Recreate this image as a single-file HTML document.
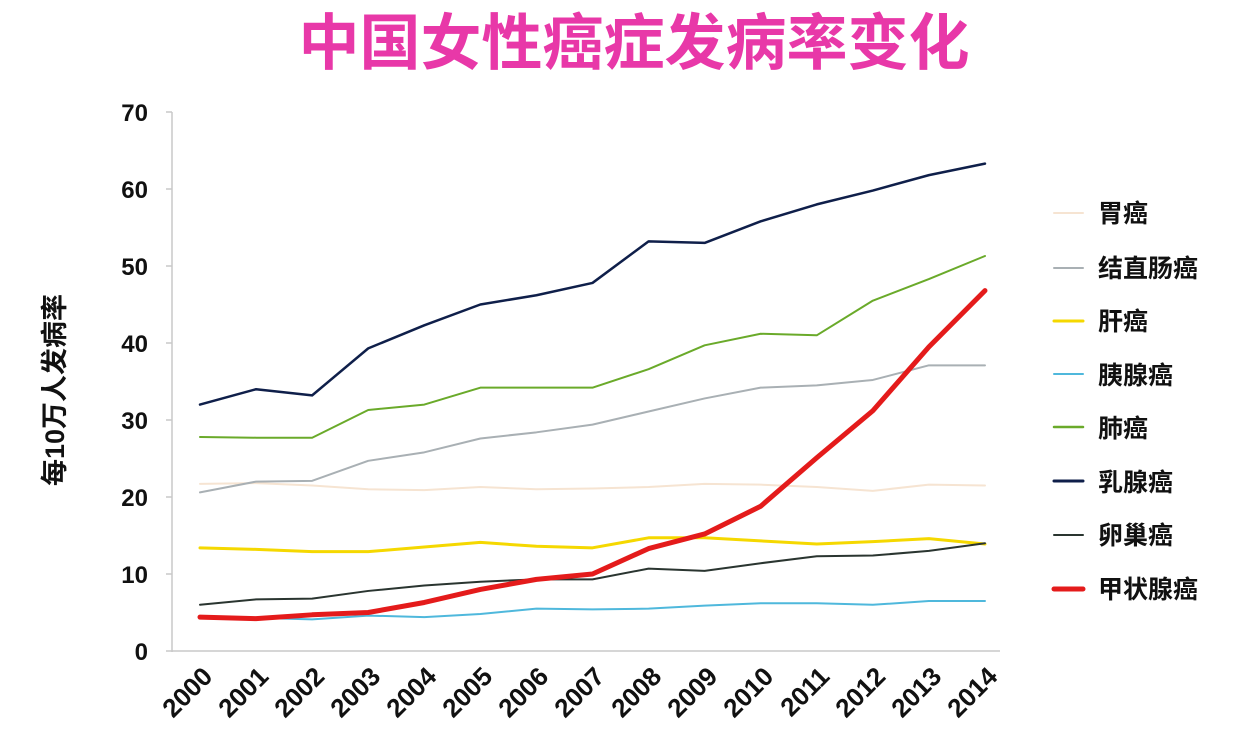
<!DOCTYPE html>
<html><head><meta charset="utf-8"><style>
body{margin:0;background:#fff;}
svg{display:block}
text{font-family:"Liberation Sans","Noto Sans CJK SC",sans-serif;font-weight:bold;fill:#111}
</style></head><body>
<svg width="1242" height="756" viewBox="0 0 1242 756">
<rect width="1242" height="756" fill="#fff"/>
<text x="634" y="64" text-anchor="middle" font-size="61" style="fill:#e838a8">中国女性癌症发病率变化</text>
<line x1="172" y1="112" x2="172" y2="652" stroke="#c8c8c8" stroke-width="1.5"/>
<line x1="172" y1="651" x2="1000" y2="651" stroke="#c8c8c8" stroke-width="1.5"/>
<g stroke="#c8c8c8" stroke-width="1.5">
<line x1="166" y1="112" x2="172" y2="112"/><line x1="166" y1="189" x2="172" y2="189"/><line x1="166" y1="266" x2="172" y2="266"/><line x1="166" y1="343" x2="172" y2="343"/><line x1="166" y1="420" x2="172" y2="420"/><line x1="166" y1="497" x2="172" y2="497"/><line x1="166" y1="574" x2="172" y2="574"/><line x1="166" y1="651" x2="172" y2="651"/>
</g>
<g font-size="24" text-anchor="end">
<text x="148" y="121">70</text><text x="148" y="198">60</text><text x="148" y="275">50</text><text x="148" y="352">40</text><text x="148" y="429">30</text><text x="148" y="506">20</text><text x="148" y="583">10</text><text x="148" y="660">0</text>
</g>
<text transform="translate(64,390) rotate(-90)" text-anchor="middle" font-size="27">每10万人发病率</text>
<g font-size="26" text-anchor="end">
<text transform="translate(214,678) rotate(-45)">2000</text>
<text transform="translate(270,678) rotate(-45)">2001</text>
<text transform="translate(326,678) rotate(-45)">2002</text>
<text transform="translate(382,678) rotate(-45)">2003</text>
<text transform="translate(438,678) rotate(-45)">2004</text>
<text transform="translate(494,678) rotate(-45)">2005</text>
<text transform="translate(550,678) rotate(-45)">2006</text>
<text transform="translate(606,678) rotate(-45)">2007</text>
<text transform="translate(663,678) rotate(-45)">2008</text>
<text transform="translate(719,678) rotate(-45)">2009</text>
<text transform="translate(775,678) rotate(-45)">2010</text>
<text transform="translate(831,678) rotate(-45)">2011</text>
<text transform="translate(887,678) rotate(-45)">2012</text>
<text transform="translate(943,678) rotate(-45)">2013</text>
<text transform="translate(999,678) rotate(-45)">2014</text>
</g>
<g transform="translate(200,651) scale(56.07,-7.7)" fill="none" stroke-linejoin="round" stroke-linecap="round">
<polyline vector-effect="non-scaling-stroke" stroke="#f6e4d2" stroke-width="2" points="0,21.7 1,21.8 2,21.5 3,21 4,20.9 5,21.3 6,21 7,21.1 8,21.3 9,21.7 10,21.6 11,21.3 12,20.8 13,21.6 14,21.5"/>
<polyline vector-effect="non-scaling-stroke" stroke="#a9b0b4" stroke-width="2" points="0,20.6 1,22 2,22.1 3,24.7 4,25.8 5,27.6 6,28.4 7,29.4 8,31.1 9,32.8 10,34.2 11,34.5 12,35.2 13,37.1 14,37.1"/>
<polyline vector-effect="non-scaling-stroke" stroke="#f5d800" stroke-width="3" points="0,13.4 1,13.2 2,12.9 3,12.9 4,13.5 5,14.1 6,13.6 7,13.4 8,14.7 9,14.7 10,14.3 11,13.9 12,14.2 13,14.6 14,13.9"/>
<polyline vector-effect="non-scaling-stroke" stroke="#4fb8dc" stroke-width="2" points="0,4.4 1,4.3 2,4.1 3,4.6 4,4.4 5,4.8 6,5.5 7,5.4 8,5.5 9,5.9 10,6.2 11,6.2 12,6 13,6.5 14,6.5"/>
<polyline vector-effect="non-scaling-stroke" stroke="#6aaa2a" stroke-width="2" points="0,27.8 1,27.7 2,27.7 3,31.3 4,32 5,34.2 6,34.2 7,34.2 8,36.6 9,39.7 10,41.2 11,41 12,45.5 13,48.3 14,51.3"/>
<polyline vector-effect="non-scaling-stroke" stroke="#0f1f4a" stroke-width="2.5" points="0,32 1,34 2,33.2 3,39.3 4,42.3 5,45 6,46.2 7,47.8 8,53.2 9,53 10,55.8 11,58 12,59.8 13,61.8 14,63.3"/>
<polyline vector-effect="non-scaling-stroke" stroke="#2a3530" stroke-width="2" points="0,6 1,6.7 2,6.8 3,7.8 4,8.5 5,9 6,9.3 7,9.3 8,10.7 9,10.4 10,11.4 11,12.3 12,12.4 13,13 14,14"/>
<polyline vector-effect="non-scaling-stroke" stroke="#e41b1b" stroke-width="5" points="0,4.4 1,4.2 2,4.7 3,5 4,6.3 5,8 6,9.3 7,10 8,13.3 9,15.2 10,18.8 11,25.1 12,31.2 13,39.5 14,46.8"/>
</g>
<g stroke-linecap="round">
<line x1="1054" y1="213" x2="1083" y2="213" stroke="#f6e4d2" stroke-width="2"/>
<line x1="1054" y1="268" x2="1083" y2="268" stroke="#a9b0b4" stroke-width="2"/>
<line x1="1054" y1="321" x2="1083" y2="321" stroke="#f5d800" stroke-width="3"/>
<line x1="1054" y1="374" x2="1083" y2="374" stroke="#4fb8dc" stroke-width="2"/>
<line x1="1054" y1="427" x2="1083" y2="427" stroke="#6aaa2a" stroke-width="2.5"/>
<line x1="1054" y1="481" x2="1083" y2="481" stroke="#0f1f4a" stroke-width="3"/>
<line x1="1054" y1="535" x2="1083" y2="535" stroke="#2a3530" stroke-width="2"/>
<line x1="1054" y1="589" x2="1083" y2="589" stroke="#e41b1b" stroke-width="5"/>
</g>
<g font-size="25">
<text x="1098" y="222">胃癌</text>
<text x="1098" y="277">结直肠癌</text>
<text x="1098" y="330">肝癌</text>
<text x="1098" y="384">胰腺癌</text>
<text x="1098" y="437">肺癌</text>
<text x="1098" y="491">乳腺癌</text>
<text x="1098" y="544">卵巢癌</text>
<text x="1098" y="598">甲状腺癌</text>
</g>
</svg>
</body></html>
